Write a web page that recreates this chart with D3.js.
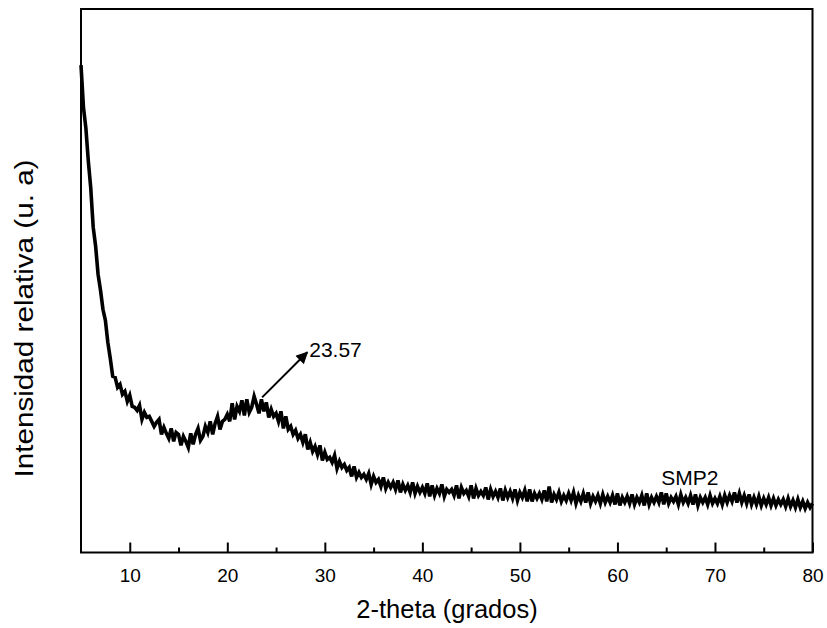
<!DOCTYPE html>
<html><head><meta charset="utf-8">
<script src="https://cdn.jsdelivr.net/npm/d3@7"></script>
<style>body{margin:0;background:#fff} text{font-family:"Liberation Sans",Arial,sans-serif;fill:#000}</style>
</head><body><svg id="c" width="827" height="628"></svg>
<script>
// ---- data ----
const xTicks = [10, 20, 30, 40, 50, 60, 70, 80];
const xMinorTicks = [15, 25, 35, 45, 55, 65, 75];
const angleStart = 5, angleStep = 0.25; // 2-theta sampling grid (degrees)
const intensity = [
 974, 890, 848, 782,   // 5
 728, 650, 612, 556,   // 6
 524, 486, 464, 420,   // 7
 388, 352, 350, 330,   // 8
 336, 316, 322, 302,   // 9
 314, 292, 290, 284,   // 10
 294, 266, 280, 270,   // 11
 272, 262, 252, 260,   // 12
 266, 236, 250, 238,   // 13
 228, 248, 222, 240,   // 14
 236, 214, 232, 222,   // 15
 210, 238, 216, 236,   // 16
 248, 224, 232, 252,   // 17
 240, 262, 236, 258,   // 18
 272, 246, 262, 266,   // 19
 276, 262, 298, 266,   // 20
 292, 282, 304, 274,   // 21
 306, 280, 290, 312,   // 22
 296, 278, 306, 282,   // 23
 300, 270, 286, 272,   // 24
 278, 262, 282, 248,   // 25
 272, 246, 252, 236,   // 26
 244, 228, 236, 220,   // 27
 236, 206, 220, 202,   // 28
 212, 196, 214, 184,   // 29
 200, 186, 190, 180,   // 30
 194, 168, 182, 170,   // 31
 176, 164, 170, 152,   // 32
 172, 150, 160, 150,   // 33
 156, 146, 158, 136,   // 34
 152, 140, 146, 132,   // 35
 150, 128, 140, 130,   // 36
 140, 126, 144, 120,   // 37
 136, 124, 134, 120,   // 38
 140, 118, 132, 120,   // 39
 130, 118, 138, 112,   // 40
 134, 114, 128, 118,   // 41
 136, 112, 126, 120,   // 42
 126, 114, 134, 108,   // 43
 130, 118, 124, 112,   // 44
 134, 108, 128, 114,   // 45
 122, 114, 130, 106,   // 46
 126, 112, 122, 110,   // 47
 128, 104, 124, 110,   // 48
 122, 108, 126, 104,   // 49
 120, 110, 124, 102,   // 50
 126, 102, 118, 108,   // 51
 118, 106, 124, 102,   // 52
 132, 100, 116, 106,   // 53
 120, 102, 114, 104,   // 54
 118, 104, 120,  98,   // 55
 114, 102, 118, 100,   // 56
 120,  98, 112, 102,   // 57
 114,  98, 116, 100,   // 58
 112, 100, 114,  96,   // 59
 118,  94, 110, 100,   // 60
 112,  98, 116,  96,   // 61
 110, 100, 114,  94,   // 62
 118,  96, 110, 100,   // 63
 112, 100, 120,  96,   // 64
 118,  98, 110, 102,   // 65
 112,  96, 116, 100,   // 66
 110,  98, 114,  96,   // 67
 116,  94, 110, 100,   // 68
 110,  96, 114,  98,   // 69
 108,  98, 112,  96,   // 70
 114, 100, 114, 102,   // 71
 120, 100, 118, 100,   // 72
 114,  98, 116,  96,   // 73
 110,  96, 112,  94,   // 74
 108,  96, 110,  94,   // 75
 108,  94, 106,  96,   // 76
 106,  92, 108,  92,   // 77
 104,  90, 106,  90,   // 78
 102,  88, 100,  90,   // 79
  98                   // 80
];
const seriesName = "SMP2";
const peakLabel = "23.57";
const xTitle = "2-theta (grados)";
const yTitle = "Intensidad relativa (u. a)";

// ---- chart ----
const svg = d3.select("#c");
const L = 81, R = 812.5, T = 9, B = 552.5;
const x = d3.scaleLinear().domain([5, 80]).range([L, R]);
const y = d3.scaleLinear().domain([0, 1086]).range([B, T]);

const pts = intensity.map((v, i) => [angleStart + i * angleStep, v]);

svg.append("path")
  .datum(pts)
  .attr("fill", "none")
  .attr("stroke", "#000")
  .attr("stroke-width", 3.6)
  .attr("stroke-linejoin", "miter")
  .attr("d", d3.line().x(d => x(d[0])).y(d => y(d[1])));

// frame
svg.append("rect").attr("x", L).attr("y", T).attr("width", R - L).attr("height", B - T)
  .attr("fill", "none").attr("stroke", "#000").attr("stroke-width", 2);

// bottom axis (major)
const gx = svg.append("g").attr("transform", `translate(0,${B})`)
  .call(d3.axisBottom(x).tickValues(xTicks).tickSizeInner(-10).tickSizeOuter(0).tickPadding(16).tickFormat(d3.format("d")));
gx.select(".domain").remove();
gx.selectAll("line").attr("stroke", "#000").attr("stroke-width", 2);
gx.selectAll("text").attr("font-size", 19).style("font-family", '"Liberation Sans", Arial, sans-serif');

const gm = svg.append("g").attr("transform", `translate(0,${B})`)
  .call(d3.axisBottom(x).tickValues(xMinorTicks).tickSizeInner(-5).tickSizeOuter(0).tickFormat(""));
gm.select(".domain").remove();
gm.selectAll("line").attr("stroke", "#000").attr("stroke-width", 2);

// titles
svg.append("text").attr("x", 447).attr("y", 618).attr("text-anchor", "middle")
  .attr("font-size", 25.5).text(xTitle);
svg.append("text").attr("transform", "translate(33,318.5) rotate(-90)").attr("text-anchor", "middle")
  .attr("font-size", 26).attr("textLength", 318).attr("lengthAdjust", "spacingAndGlyphs").text(yTitle);

// annotation arrow
const defs = svg.append("defs");
defs.append("marker").attr("id", "ah").attr("viewBox", "0 0 10 10").attr("refX", 9).attr("refY", 5)
  .attr("markerWidth", 7).attr("markerHeight", 6).attr("markerUnits", "strokeWidth").attr("orient", "auto")
  .append("path").attr("d", "M0,0 L10,5 L0,10 Z").attr("fill", "#000");
svg.append("line")
  .attr("x1", x(23.57)).attr("y1", y(310))
  .attr("x2", x(28.2)).attr("y2", y(400))
  .attr("stroke", "#000").attr("stroke-width", 2).attr("marker-end", "url(#ah)");
svg.append("text").attr("x", x(28.4)).attr("y", y(390)).attr("font-size", 21).text(peakLabel);
svg.append("text").attr("x", x(64.5)).attr("y", y(135)).attr("font-size", 21).text(seriesName);
</script></body></html>
